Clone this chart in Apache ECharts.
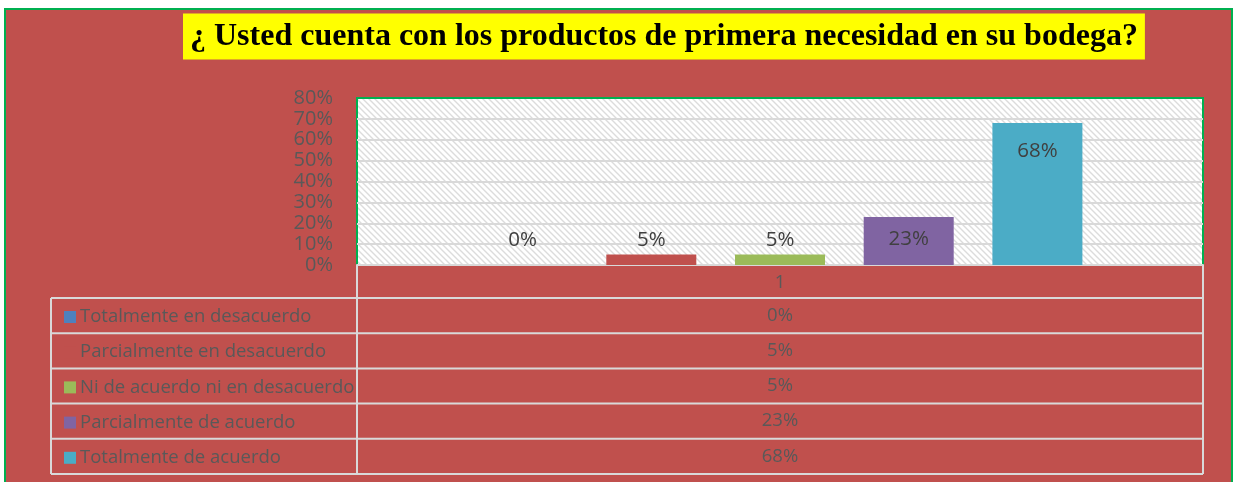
<!DOCTYPE html>
<html>
<head>
<meta charset="utf-8">
<script src="https://cdn.jsdelivr.net/npm/echarts@6/dist/echarts.min.js"></script>
<style>
  body{margin:0;background:#fff;}
  #wrap{position:relative;width:1233px;height:482px;overflow:hidden;background:#fff;}
  #frame{position:absolute;left:4px;top:8px;width:1225px;height:480px;background:#C0504D;border:2px solid #00B050;}
  #main{position:absolute;left:0;top:0;width:1233px;height:482px;}
</style>
</head>
<body>
<div id="wrap">
  <div id="frame"></div>
  <div id="main"></div>
</div>
<script>
// datos del grafico
const categories = ['1']
const seriesNames = ['Totalmente en desacuerdo','Parcialmente en desacuerdo','Ni de acuerdo ni en desacuerdo','Parcialmente de acuerdo','Totalmente de acuerdo']
const seriesValues = [0, 0.05, 0.05, 0.23, 0.68]
const yTicks = [0, 0.1, 0.2, 0.3, 0.4, 0.5, 0.6, 0.7, 0.8]
const titleText = '¿ Usted cuenta con los productos de primera necesidad en su bodega?'

const colors = ['#4F81BD','#C0504D','#9BBB59','#8064A2','#4BACC6']
const pct = v => Math.round(v*100) + '%'

// trama diagonal del fondo del area de trazado
function hatch(){
  const c = document.createElement('canvas')
  c.width = 6; c.height = 6
  const g = c.getContext('2d')
  g.fillStyle = '#ffffff'
  g.fillRect(0,0,6,6)
  g.strokeStyle = '#dcdcdc'
  g.lineWidth = 1.4
  g.beginPath()
  g.moveTo(-1,-1); g.lineTo(7,7)
  g.moveTo(-4,2); g.lineTo(2,8)
  g.moveTo(2,-4); g.lineTo(8,2)
  g.stroke()
  return c
}

// posicion de etiquetas (como Excel las deja)
const labelPlace = [
  {position:'top', distance:14},
  {position:'top', distance:4},
  {position:'top', distance:4},
  {position:'insideTop', distance:12},
  {position:'insideTop', distance:18}
]

const gridL = 357, gridR = 1203, gridT = 98, gridB = 265
const tableL = 51
const rowH = 35.2
const catRowB = 298

let chart = echarts.init(document.getElementById('main'))

let series = seriesNames.map((name,i)=>({
  name: name,
  type: 'bar',
  data: [seriesValues[i]],
  barWidth: 90,
  barGap: '43%',
  itemStyle: {color: colors[i]},
  label: {
    show: true,
    position: labelPlace[i].position,
    distance: labelPlace[i].distance,
    formatter: p => pct(p.value),
    color: '#404040',
    fontFamily: 'Open Sans',
    fontSize: 20.5
  }
}))

// tabla de datos bajo el grafico
let gfx = []
let lineStyle = {stroke:'#d9d9d9', lineWidth:2}
gfx.push({type:'line', shape:{x1:gridL,y1:gridB,x2:gridL,y2:catRowB+rowH*5}, style:lineStyle})
gfx.push({type:'line', shape:{x1:gridR,y1:gridB,x2:gridR,y2:catRowB+rowH*5}, style:lineStyle})
gfx.push({type:'line', shape:{x1:tableL,y1:catRowB,x2:tableL,y2:catRowB+rowH*5}, style:lineStyle})
for(let r=0;r<=seriesNames.length;r++){
  gfx.push({type:'line', shape:{x1:tableL,y1:catRowB+rowH*r,x2:gridR,y2:catRowB+rowH*r}, style:lineStyle})
}
seriesValues.forEach((v,i)=>{
  gfx.push({
    type:'text',
    x:(gridL+gridR)/2,
    y:catRowB+rowH*i+rowH/2,
    style:{text:pct(v), fill:'#595959', font:'18.5px "Open Sans"', align:'center', verticalAlign:'middle'}
  })
})

chart.setOption({
  animation: false,
  title: {
    text: titleText,
    left: 183,
    top: 14,
    padding: [7, 7, 7, 7],
    backgroundColor: '#FFFF00',
    textStyle: {fontFamily:'Liberation Serif', fontWeight:'bold', fontSize:32, lineHeight:31, color:'#000'}
  },
  legend: {
    orient: 'vertical',
    left: 59,
    top: catRowB + 4,
    itemWidth: 12,
    itemHeight: 12,
    itemGap: 15.2,
    icon: 'rect',
    data: seriesNames,
    textStyle: {color:'#595959', fontFamily:'Open Sans', fontSize:18.5, lineHeight:20, padding:[0,0,0,-1]}
  },
  grid: {
    left: gridL,
    right: 1233 - gridR,
    top: gridT,
    bottom: 482 - gridB,
    show: true,
    backgroundColor: {image: hatch(), repeat: 'repeat'},
    borderColor: '#00B050',
    borderWidth: 2
  },
  xAxis: {
    type: 'category',
    data: categories,
    axisLine: {lineStyle:{color:'#d9d9d9', width:2}},
    axisTick: {show:false},
    axisLabel: {color:'#595959', fontFamily:'Open Sans', fontSize:18.5, margin:8}
  },
  yAxis: {
    type: 'value',
    min: 0,
    max: 0.8,
    interval: 0.1,
    axisLine: {show:false},
    axisTick: {show:false},
    axisLabel: {
      color:'#595959', fontFamily:'Open Sans', fontSize:20, margin:24,
      formatter: v => yTicks.some(t=>Math.abs(t-v)<1e-9) ? pct(v) : ''
    },
    splitLine: {show:true, showMaxLine:false, lineStyle:{color:'#d9d9d9', width:2}}
  },
  graphic: gfx,
  series: series
})
</script>
</body>
</html>
